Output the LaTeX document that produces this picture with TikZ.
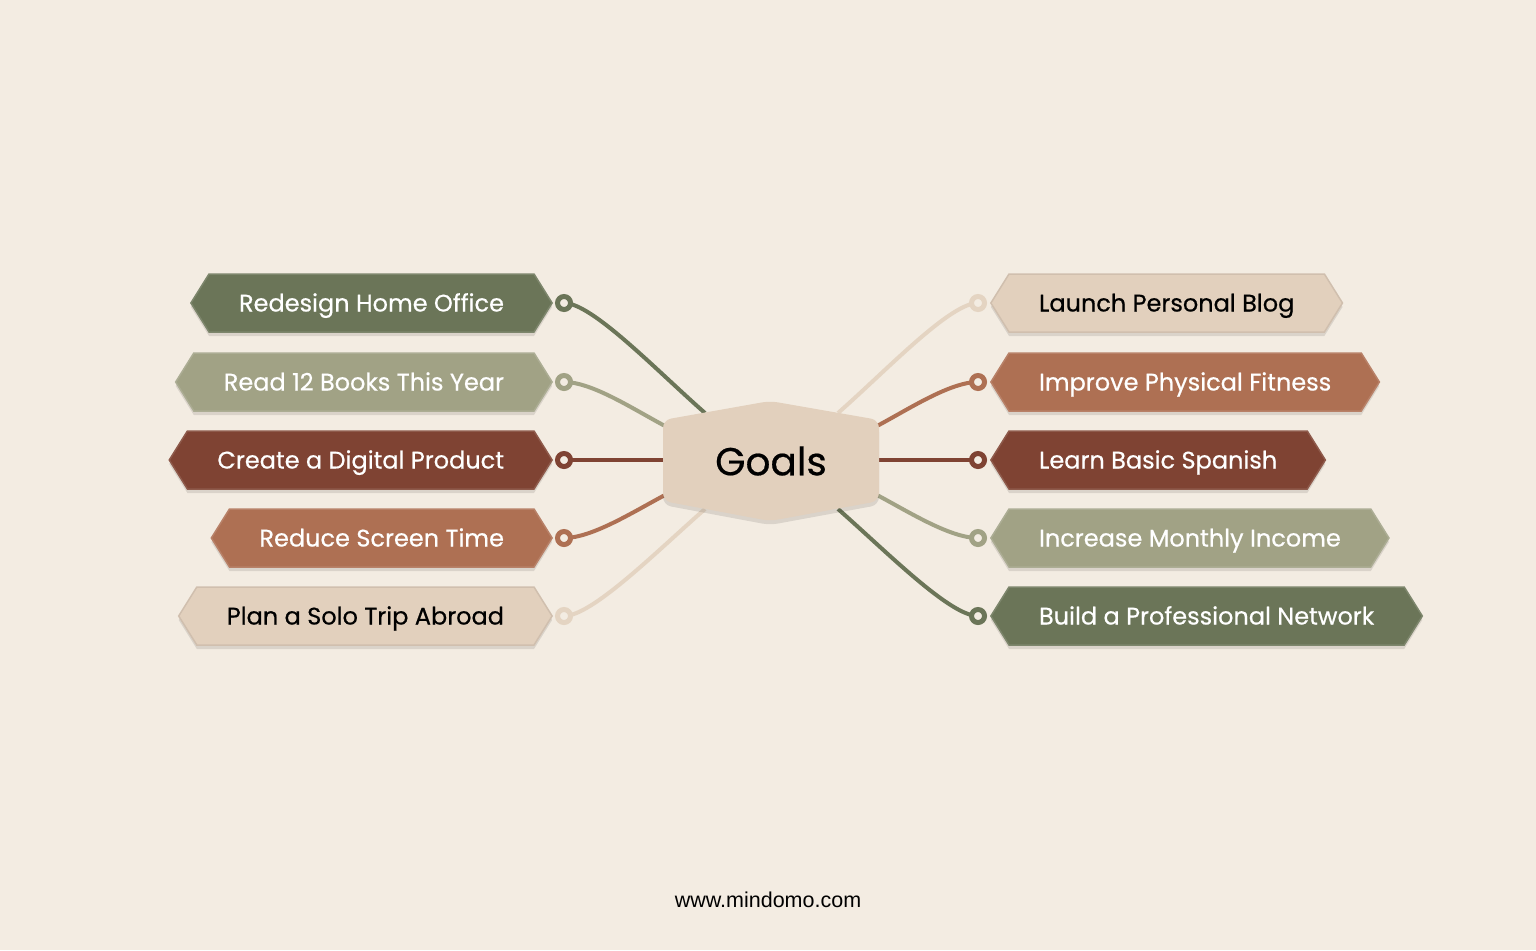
\documentclass[tikz,border=0pt]{standalone}
\usepackage{fontspec}
\setmainfont{Poppins}
\newfontfamily\labelfont{Poppins}[FakeBold=0.5]
\newfontfamily\webfont{Liberation Sans}
\usetikzlibrary{shapes.symbols,shadows}
\definecolor{paper}{HTML}{F3ECE2}
\definecolor{moss}{HTML}{6B7558}
\definecolor{sage}{HTML}{A1A285}
\definecolor{rust}{HTML}{7F4333}
\definecolor{clay}{HTML}{AE7053}
\definecolor{sand}{HTML}{E2D0BD}
\definecolor{sandlink}{HTML}{E4D4C2}
\pgfdeclarelayer{back}
\pgfdeclarelayer{links}
\pgfsetlayers{back,links,main}
\tikzset{soft/.style={drop shadow={shadow xshift=0pt,shadow yshift=-4pt,opacity=0.10,fill=black}}}
\tikzset{goal/.style={signal,signal to=east and west,signal pointer angle=116,minimum height=58pt,
  inner xsep=30pt,text height=17pt,text depth=0pt,fill=#1,draw=#1!88!white,line width=1.5pt,text=white,soft,
  font=\labelfont\fontsize{24}{28}\selectfont}}
\tikzset{pin/.style={circle,draw=#1,line width=5pt,fill=paper,minimum size=13pt,inner sep=0pt}}
\tikzset{link/.style={line width=4pt,#1}}

\begin{document}
\begin{tikzpicture}[x=1pt,y=-1pt]
      \begin{pgfonlayer}{back}
        \fill[paper] (0,0) rectangle (1536,950);
      \end{pgfonlayer}
      \useasboundingbox (0,0) rectangle (1536,950);

      \fill[sand,rounded corners=8pt,soft] (663,420) -- (770,401) -- (879,420) -- (879,501) -- (770,521) -- (663,501) -- cycle;
      \node[font=\labelfont\fontsize{39}{44}\selectfont] (goals) at (771,461) {Goals};
      \coordinate (g1) at (705,413);
      \coordinate (g2) at (665,426);
      \coordinate (g3) at (665,460);
      \coordinate (g4) at (665,495);
      \coordinate (g5) at (705,509);
      \coordinate (g6) at (838,413);
      \coordinate (g7) at (877,426);
      \coordinate (g8) at (877,460);
      \coordinate (g9) at (877,495);
      \coordinate (g10) at (838,509);

      \node[goal=moss,anchor=east] (redesign) at (553,303) {Redesign Home Office};
      \node[goal=sage,anchor=east] (books) at (553,382) {Read 12 Books This Year};
      \node[goal=rust,anchor=east] (product) at (553,460) {Create a Digital Product};
      \node[goal=clay,anchor=east] (screen) at (553,538) {Reduce Screen Time};
      \node[goal=sand,draw=sand!92!black,text=black,anchor=east] (trip) at (553,616) {Plan a Solo Trip Abroad};
      \node[goal=sand,draw=sand!92!black,text=black,anchor=west] (blog) at (990,303) {Launch Personal Blog};
      \node[goal=clay,anchor=west] (fitness) at (990,382) {Improve Physical Fitness};
      \node[goal=rust,anchor=west] (spanish) at (990,460) {Learn Basic Spanish};
      \node[goal=sage,anchor=west] (income) at (990,538) {Increase Monthly Income};
      \node[goal=moss,anchor=west] (network) at (990,616) {Build a Professional Network};

      \node[pin=moss] (p1) at (564,303) {};
      \node[pin=sage] (p2) at (564,382) {};
      \node[pin=rust] (p3) at (564,460) {};
      \node[pin=clay] (p4) at (564,538) {};
      \node[pin=sandlink] (p5) at (564,616) {};
      \node[pin=sandlink] (p6) at (978,303) {};
      \node[pin=clay] (p7) at (978,382) {};
      \node[pin=rust] (p8) at (978,460) {};
      \node[pin=sage] (p9) at (978,538) {};
      \node[pin=moss] (p10) at (978,616) {};

      \begin{pgfonlayer}{links}
        \draw[link=moss] (p1.center) .. controls +(28,0) and +(-50,-44) .. (g1);
        \draw[link=sage] (p2.center) .. controls +(28,0) and +(-32,-17) .. (g2);
        \draw[link=rust] (p3.center) -- (g3);
        \draw[link=clay] (p4.center) .. controls +(28,0) and +(-32,17) .. (g4);
        \draw[link=sandlink] (p5.center) .. controls +(28,0) and +(-50,44) .. (g5);
        \draw[link=sandlink] (p6.center) .. controls +(-28,0) and +(50,-44) .. (g6);
        \draw[link=clay] (p7.center) .. controls +(-28,0) and +(32,-17) .. (g7);
        \draw[link=rust] (p8.center) -- (g8);
        \draw[link=sage] (p9.center) .. controls +(-28,0) and +(32,17) .. (g9);
        \draw[link=moss] (p10.center) .. controls +(-28,0) and +(50,44) .. (g10);
      \end{pgfonlayer}

      \node[font=\webfont\fontsize{21.5}{24}\selectfont] (site) at (768,900) {www.mindomo.com};
    \end{tikzpicture}
\end{document}
